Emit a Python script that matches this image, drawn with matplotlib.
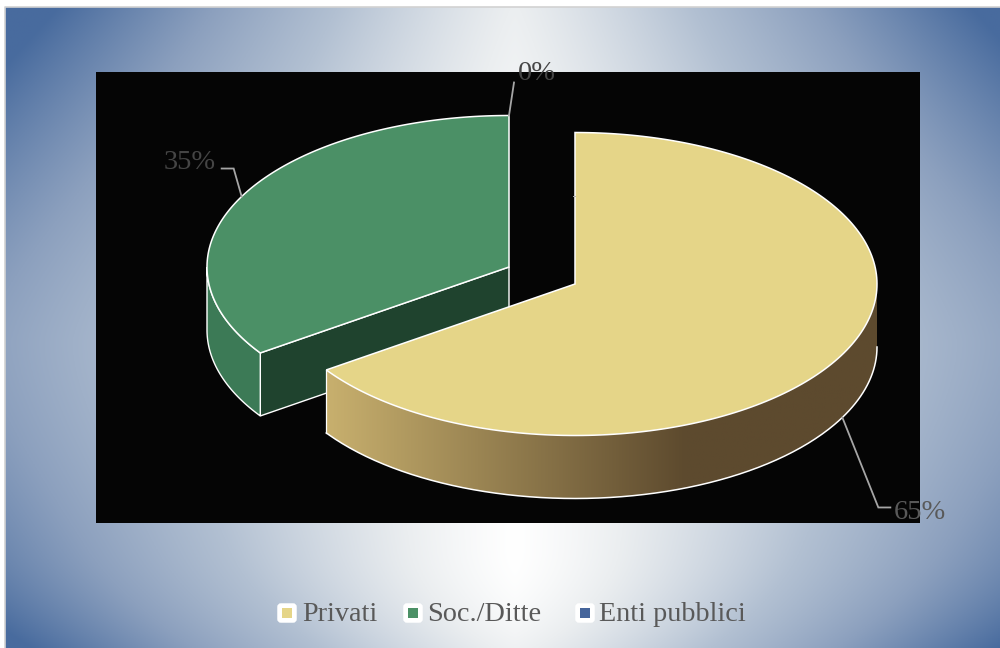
import matplotlib
matplotlib.use("Agg")
import matplotlib.pyplot as plt
from matplotlib.patches import Polygon, Rectangle, FancyBboxPatch
import numpy as np

categories = ["Privati", "Soc./Ditte", "Enti pubblici"]
values = [65.4, 34.6, 0.0]
pct_labels = ["65%", "35%", "0%"]
colors = ["#E5D588", "#4B9066", "#45659B"]

plt.rcParams['font.family'] = ['Liberation Serif', 'DejaVu Serif']

W, H = 1000, 648
RX, RY, DEPTH = 302, 151.5, 63
# each slice is pulled out of the pie, so it has its own centre
centres = [(575, 284), (509, 267), (509, 267)]
EDGE = "white"
TXT = "#595959"


def pt(c, ang, dy=0):
    # ang in degrees, clockwise from 12 o'clock
    a = np.radians(ang)
    return c[0] + RX * np.sin(a), c[1] - RY * np.cos(a) + dy


def arc(c, a0, a1, dy=0, n=200):
    a = np.linspace(a0, a1, n)
    x, y = pt(c, a, dy)
    return np.column_stack([x, y])


fig = plt.figure(figsize=(W / 100, H / 100), dpi=100, facecolor="white")
ax = fig.add_axes([0, 0, 1, 1])
ax.axis("off")

# background: pale centre low in the frame, blue corners
gx, gy = np.meshgrid(np.linspace(5, W, 500), np.linspace(7, H, 324))
dx = np.abs(gx - 515) / 510
v = np.abs(gy - 340) / 332
t = dx ** 1.2 * (0.6 + 0.4 * v ** 1.5) + 0.12 * np.clip(1 - gy / 560, 0, 1) ** 2
t = t + 0.1 * (np.clip(gy - 550, 0, None) / 100) ** 2
t = np.clip(t, 0, 1)
stops = [0, 0.12, 0.4, 0.65, 1]
stop_rgb = np.array([[255, 255, 255], [235, 238, 240], [178, 192, 210], [140, 160, 190], [72, 107, 158]]) / 255
bg = np.dstack([np.interp(t, stops, stop_rgb[:, k]) for k in range(3)])
ax.imshow(bg, extent=(5, W, H, 7), aspect="auto", zorder=0)
ax.plot([5, 5, W], [H, 7, 7], color="#D2D2D2", lw=1.2, zorder=1)

ax.add_patch(Rectangle((96, 72), 824, 451, facecolor="#050505", edgecolor="none", zorder=1))

angles = np.cumsum([0] + values) * 360 / sum(values)

# Soc./Ditte block
c = centres[1]
a0, a1 = angles[1], angles[2]
p0 = pt(c, a0)
p1 = pt(c, a0, DEPTH)
wall = [c, p0, p1, (c[0], c[1] + DEPTH)]
ax.add_patch(Polygon(wall, closed=True, facecolor="#1F432E", edgecolor=EDGE, lw=1.0, zorder=2))
outer = np.vstack([arc(c, a0, 270), arc(c, 270, a0, DEPTH)])
ax.add_patch(Polygon(outer, closed=True, facecolor="#3C7A56", edgecolor=EDGE, lw=1.0, zorder=2))
top = np.vstack([[c], arc(c, a0, a1)])
ax.add_patch(Polygon(top, closed=True, facecolor=colors[1], edgecolor=EDGE, lw=1.1, zorder=3))

# Privati block, rim has a horizontal gradient
c = centres[0]
a0, a1 = angles[0], angles[1]
rim = np.vstack([arc(c, 90, a1), arc(c, a1, 90, DEPTH)])
xmin, xmax = rim[:, 0].min(), rim[:, 0].max()
g = np.clip((np.linspace(xmin, xmax, 300) - xmin) / 360, 0, 1)[None, :, None]
cg0, cg1 = np.array([200, 176, 110]) / 255, np.array([93, 74, 46]) / 255
im = ax.imshow(cg0 + (cg1 - cg0) * g, extent=(xmin, xmax, rim[:, 1].max(), rim[:, 1].min()),
               aspect="auto", zorder=4)
rim_patch = Polygon(rim, closed=True, facecolor="none", edgecolor="none", transform=ax.transData)
ax.add_patch(rim_patch)
im.set_clip_path(rim_patch)
low = arc(c, 90, a1, DEPTH)
ax.plot(low[:, 0], low[:, 1], color=EDGE, lw=1.1, zorder=5)
ax.plot([low[-1, 0], low[-1, 0]], [low[-1, 1], low[-1, 1] - DEPTH], color=EDGE, lw=0.9, zorder=5)
top = np.vstack([[c], arc(c, a0, a1)])
ax.add_patch(Polygon(top, closed=True, facecolor=colors[0], edgecolor=EDGE, lw=1.1, zorder=6))
ax.plot([c[0] - 2, c[0]], [196, 196], color="#B0B0B0", lw=0.7, zorder=6)

# data labels and leader lines
leaders = [
    ((36, 90), (12, 0), (894, 519), DEPTH),
    ((-8, -28), (-12, 0), (164, 169), 0),
    ((5, -33), (0, 0), (518, 80), 0),
]
for i, (bend, tail, pos, drop) in enumerate(leaders):
    mid = (angles[i] + angles[i + 1]) / 2
    sx, sy = pt(centres[i], mid, drop)
    bx, by = sx + bend[0], sy + bend[1]
    ax.plot([sx, bx, bx + tail[0]], [sy, by, by + tail[1]], color="#A6A6A6", lw=1.3, zorder=7,
            solid_joinstyle="miter")
    ax.text(pos[0], pos[1], pct_labels[i], fontsize=20.5, color=TXT if i == 0 else "#454545",
            ha="left", va="baseline", zorder=8)

# legend
leg_box = [277, 403, 575]
leg_txt = [302, 427, 599]
for name, col, bx, tx in zip(categories, colors, leg_box, leg_txt):
    ax.add_patch(FancyBboxPatch((bx + 2, 605), 16, 16, boxstyle="round,pad=0,rounding_size=2",
                                facecolor="white", edgecolor="white", lw=2.5, zorder=3))
    ax.add_patch(Rectangle((bx + 5, 608), 10, 10, facecolor=col, edgecolor="none", zorder=4))
    ax.text(tx, 621, name, fontsize=20.3, color=TXT, ha="left", va="baseline", zorder=4)

ax.set_xlim(0, W)
ax.set_ylim(H, 0)
fig.savefig("out.png", dpi=100, facecolor="white")
